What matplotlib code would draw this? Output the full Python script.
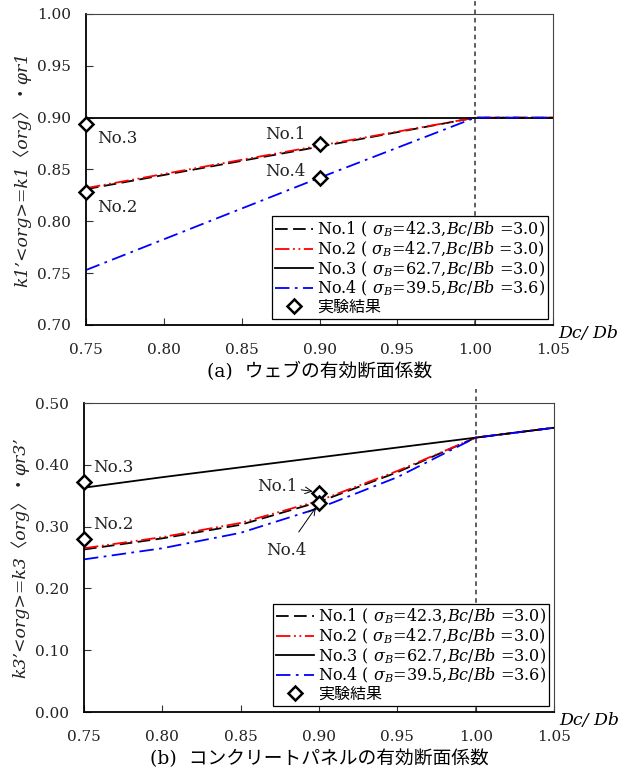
import matplotlib
matplotlib.use("Agg")
import matplotlib.pyplot as plt

plt.rcParams["font.family"] = ["DejaVu Serif", "Noto Sans CJK JP"]
plt.rcParams["mathtext.fontset"] = "dejavuserif"

# (a) web effective section factor
x_a = [0.75, 0.90, 1.00, 1.05]
a_no1 = [0.831, 0.872, 0.900, 0.900]
a_no2 = [0.832, 0.873, 0.900, 0.900]
a_no3 = [0.900, 0.900, 0.900, 0.900]
a_no4 = [0.753, 0.842, 0.900, 0.900]
a_exp_x = [0.75, 0.75, 0.90, 0.90]
a_exp_y = [0.894, 0.828, 0.875, 0.842]

# (b) concrete panel effective section factor
x_b = [0.75, 0.80, 0.85, 0.90, 0.95, 1.00, 1.05]
b_no1 = [0.263, 0.281, 0.303, 0.340, 0.388, 0.444, 0.460]
b_no2 = [0.265, 0.283, 0.306, 0.342, 0.390, 0.444, 0.460]
b_no3 = [0.363, 0.380, 0.396, 0.412, 0.428, 0.444, 0.460]
b_no4 = [0.247, 0.265, 0.290, 0.330, 0.380, 0.444, 0.460]
b_exp_x = [0.75, 0.75, 0.90, 0.90]
b_exp_y = [0.373, 0.280, 0.354, 0.339]

labels = [r"No.1 ( $\sigma_{B}$=42.3,$Bc/Bb$ =3.0)",
          r"No.2 ( $\sigma_{B}$=42.7,$Bc/Bb$ =3.0)",
          r"No.3 ( $\sigma_{B}$=62.7,$Bc/Bb$ =3.0)",
          r"No.4 ( $\sigma_{B}$=39.5,$Bc/Bb$ =3.6)",
          "実験結果"]
xticks = [0.75, 0.80, 0.85, 0.90, 0.95, 1.00, 1.05]


def draw(ax, xs, ys, ex, ey, ylim, yticks, ylabel, caption):
    lw = 1.3
    ax.plot(xs, ys[0], color="black", lw=lw, dashes=(7, 3), label=labels[0])
    ax.plot(xs, ys[1], color="red", lw=lw, dashes=(8, 2, 1, 2, 1, 2), label=labels[1])
    ax.plot(xs, ys[2], color="black", lw=lw, label=labels[2])
    ax.plot(xs, ys[3], color="blue", lw=lw, dashes=(8, 3, 1.5, 3), label=labels[3])
    ax.plot(ex, ey, ls="none", marker="D", ms=7.5, mfc="white", mec="black", mew=1.8,
            clip_on=False, zorder=5, label=labels[4])
    ax.axvline(1.0, ymin=0, ymax=1.045, color="#333333", lw=1.1, dashes=(3, 2.5),
               clip_on=False, zorder=1)
    ax.set_xlim(0.75, 1.05)
    ax.set_ylim(*ylim)
    ax.set_xticks(xticks)
    ax.set_xticklabels([f"{t:.2f}" for t in xticks])
    ax.set_yticks(yticks)
    ax.set_yticklabels([f"{t:.2f}" for t in yticks])
    ax.tick_params(direction="in", length=5, width=0.8, labelsize=11, color="#333333",
                   labelcolor="#222222")
    ax.tick_params(axis="x", pad=13)
    ax.tick_params(axis="y", pad=11)
    for s in ["left", "bottom"]:
        ax.spines[s].set_linewidth(1.3)
    for s in ["top", "right"]:
        ax.spines[s].set_linewidth(0.8)
        ax.spines[s].set_color("#444444")
    ax.set_ylabel(ylabel, fontsize=12.5, style="italic", labelpad=4, color="#222222")
    leg = ax.legend(loc="lower right", bbox_to_anchor=(0.99, 0.02), borderaxespad=0,
                    fontsize=11.5, fancybox=False, framealpha=1, edgecolor="black",
                    handlelength=2.4, handletextpad=0.25, labelspacing=0.02,
                    borderpad=0.2, numpoints=1)
    leg.get_frame().set_linewidth(0.9)
    leg.set_zorder(10)
    ax.text(1.012, 0.0, "Dc/ Db", transform=ax.transAxes, ha="left", va="top",
            fontsize=12.5, style="italic")
    ax.text(0.5, -0.15, caption, transform=ax.transAxes, ha="center", va="center",
            fontsize=13.5)


fig = plt.figure(figsize=(6.25, 7.69), dpi=100)
ax1 = fig.add_axes([0.1376, 0.5774, 0.7472, 0.4044])
ax2 = fig.add_axes([0.1344, 0.0741, 0.7520, 0.4018])

draw(ax1, x_a, [a_no1, a_no2, a_no3, a_no4], a_exp_x, a_exp_y, (0.70, 1.00),
     [0.70, 0.75, 0.80, 0.85, 0.90, 0.95, 1.00],
     "k1’<org>=k1〈org〉・φr1", "(a)  ウェブの有効断面係数")
draw(ax2, x_b, [b_no1, b_no2, b_no3, b_no4], b_exp_x, b_exp_y, (0.0, 0.50),
     [0.0, 0.10, 0.20, 0.30, 0.40, 0.50],
     "k3’<org>=k3〈org〉・φr3’", "(b)  コンクリートパネルの有効断面係数")

fs = 12
ax1.text(0.757, 0.880, "No.3", fontsize=fs, va="center", ha="left", color="#222222")
ax1.text(0.757, 0.813, "No.2", fontsize=fs, va="center", ha="left", color="#222222")
ax1.text(0.891, 0.884, "No.1", fontsize=fs, va="center", ha="right", color="#222222")
ax1.text(0.891, 0.848, "No.4", fontsize=fs, va="center", ha="right", color="#222222")

ax2.text(0.756, 0.396, "No.3", fontsize=fs, va="center", ha="left", color="#222222")
ax2.text(0.756, 0.304, "No.2", fontsize=fs, va="center", ha="left", color="#222222")
ax2.annotate("No.1", xy=(0.896, 0.357), xytext=(0.886, 0.365), fontsize=fs,
             va="center", ha="right", color="#222222",
             arrowprops=dict(arrowstyle="->", lw=0.7, color="black", shrinkA=1, shrinkB=0))
ax2.annotate("No.4", xy=(0.898, 0.331), xytext=(0.879, 0.262), fontsize=fs,
             va="center", ha="center", color="#222222",
             arrowprops=dict(arrowstyle="->", lw=0.7, color="black", shrinkA=6, shrinkB=0))

fig.savefig("out.png", dpi=100)
